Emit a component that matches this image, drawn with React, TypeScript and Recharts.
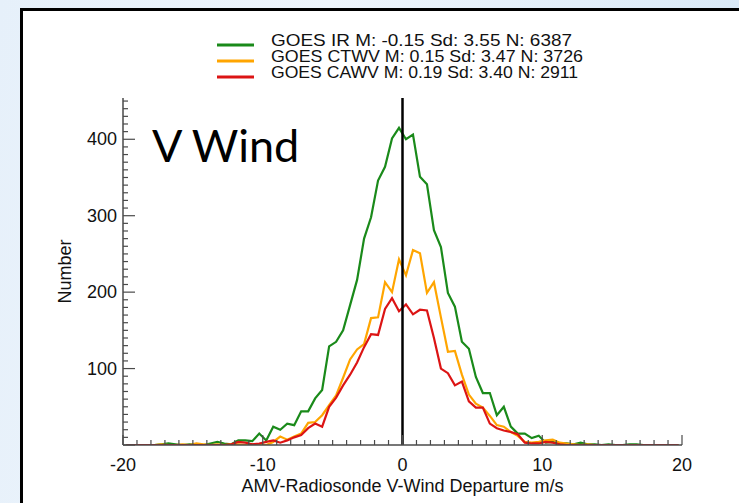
import React from 'react';
import { LineChart, Line, XAxis, YAxis, ReferenceLine, Legend, Customized } from 'recharts';

// Bin centres of the departure histogram (m/s)
const departures = [
  -19.75, -19.25, -18.75, -18.25, -17.75, -17.25, -16.75, -16.25, -15.75, -15.25,
  -14.75, -14.25, -13.75, -13.25, -12.75, -12.25, -11.75, -11.25, -10.75, -10.25,
  -9.75, -9.25, -8.75, -8.25, -7.75, -7.25, -6.75, -6.25, -5.75, -5.25,
  -4.75, -4.25, -3.75, -3.25, -2.75, -2.25, -1.75, -1.25, -0.75, -0.25,
  0.25, 0.75, 1.25, 1.75, 2.25, 2.75, 3.25, 3.75, 4.25, 4.75,
  5.25, 5.75, 6.25, 6.75, 7.25, 7.75, 8.25, 8.75, 9.25, 9.75,
  10.25, 10.75, 11.25, 11.75, 12.25, 12.75, 13.25, 13.75, 14.25, 14.75,
  15.25, 15.75, 16.25, 16.75, 17.25, 17.75, 18.25, 18.75, 19.25, 19.75,
];

const goesIR = [
  0, 0, 0, 0, 0, 1, 2, 1, 0, 1,
  1, 0, 2, 4, 2, 1, 6, 6, 5, 15,
  6, 24, 20, 28, 26, 44, 44, 61, 72, 129,
  135, 150, 183, 216, 270, 298, 346, 364, 401, 415,
  400, 406, 351, 341, 281, 259, 199, 181, 135, 126,
  89, 68, 68, 39, 50, 24, 15, 15, 9, 12,
  3, 4, 2, 2, 1, 3, 1, 1, 0, 1,
  0, 0, 1, 1, 0, 0, 0, 0, 0, 0,
];

const goesCTWV = [
  0, 0, 0, 0, 0, 1, 0, 0, 1, 0,
  2, 1, 0, 1, 0, 1, 1, 0, 1, 1,
  0, 4, 11, 7, 11, 15, 29, 30, 39, 52,
  65, 88, 112, 125, 132, 166, 167, 213, 200, 243,
  222, 255, 251, 199, 213, 167, 122, 123, 92, 66,
  54, 49, 38, 26, 24, 17, 12, 4, 3, 4,
  6, 7, 3, 2, 1, 0, 1, 0, 0, 0,
  0, 0, 0, 0, 0, 0, 0, 0, 0, 0,
];

const goesCAWV = [
  0, 0, 0, 0, 0, 0, 0, 0, 0, 0,
  0, 0, 0, 0, 0, 1, 4, 3, 1, 2,
  4, 6, 3, 6, 10, 13, 22, 28, 24, 50,
  62, 78, 92, 108, 128, 145, 144, 178, 192, 175,
  184, 171, 177, 176, 140, 100, 94, 78, 83, 57,
  49, 49, 28, 22, 19, 17, 14, 3, 2, 2,
  4, 3, 1, 0, 0, 0, 0, 0, 0, 0,
  0, 0, 0, 0, 0, 0, 0, 0, 0, 0,
];

const seriesNames = [
  'GOES IR M: -0.15 Sd: 3.55 N: 6387',
  'GOES CTWV M: 0.15 Sd: 3.47 N: 3726',
  'GOES CAWV M: 0.19 Sd: 3.40 N: 2911',
];
const seriesColors = ['#1a8a1a', '#ffa500', '#dc1414'];

const xTicks = [
  -20, -19, -18, -17, -16, -15, -14, -13, -12, -11, -10, -9, -8, -7, -6, -5, -4, -3, -2, -1,
  0, 1, 2, 3, 4, 5, 6, 7, 8, 9, 10, 11, 12, 13, 14, 15, 16, 17, 18, 19, 20,
];
const xLabelTicks = [-20, -10, 0, 10, 20];
const yTicks = [
  0, 10, 20, 30, 40, 50, 60, 70, 80, 90, 100, 110, 120, 130, 140, 150, 160, 170, 180, 190,
  200, 210, 220, 230, 240, 250, 260, 270, 280, 290, 300, 310, 320, 330, 340, 350, 360, 370,
  380, 390, 400, 410, 420, 430, 440, 450,
];
const yLabelTicks = [100, 200, 300, 400];

const data = departures.map((d, i) => ({
  x: d,
  ir: goesIR[i],
  ctwv: goesCTWV[i],
  cawv: goesCAWV[i],
}));

const FONT = '"Liberation Sans", Arial, Helvetica, sans-serif';
const TICK_COLOR = '#4a4a4a';

const BottomTick = (props: any) => {
  const { x, y, payload } = props;
  const v = payload.value;
  const major = v % 10 === 0;
  const len = major ? 10 : 5;
  return (
    <g>
      <line x1={x} y1={y} x2={x} y2={y - len} stroke={TICK_COLOR} strokeWidth={1.2} />
      {xLabelTicks.includes(v) && (
        <text x={x} y={y + 26} textAnchor="middle" fontSize={18} fontFamily={FONT} fill="#111">
          {v}
        </text>
      )}
    </g>
  );
};

const TopTick = (props: any) => {
  const { x, y, payload } = props;
  const major = payload.value % 10 === 0;
  const len = major ? 10 : 5;
  return <line x1={x} y1={y} x2={x} y2={y + len} stroke={TICK_COLOR} strokeWidth={1.2} />;
};

const LeftTick = (props: any) => {
  const { x, y, payload } = props;
  const v = payload.value;
  const major = v % 100 === 0;
  const len = major ? 12 : 5;
  return (
    <g>
      <line x1={x} y1={y} x2={x + len} y2={y} stroke={TICK_COLOR} strokeWidth={1.2} />
      {yLabelTicks.includes(v) && (
        <text x={x - 6} y={y + 6} textAnchor="end" fontSize={18} fontFamily={FONT} fill="#111">
          {v}
        </text>
      )}
    </g>
  );
};

const RightTick = (props: any) => {
  const { x, y, payload } = props;
  const major = payload.value % 100 === 0;
  const len = major ? 12 : 5;
  return <line x1={x} y1={y} x2={x - len} y2={y} stroke={TICK_COLOR} strokeWidth={1.2} />;
};

const legendWidths = [301, 312, 307];

const LegendContent = (props: any) => {
  const payload: any[] = [...(props.payload || [])];
  payload.sort((a, b) => seriesNames.indexOf(a.value) - seriesNames.indexOf(b.value));
  return (
    <svg width={739} height={90} style={{ display: 'block' }}>
      {payload.map((entry: any, i: number) => (
        <g key={i}>
          <line
            x1={217}
            x2={254}
            y1={45 + i * 16}
            y2={45 + i * 16}
            stroke={entry.color}
            strokeWidth={3}
          />
          <text
            x={271}
            y={46 + i * 16}
            fontSize={16.5}
            fontFamily={FONT}
            fill="#111"
            textLength={legendWidths[i]}
            lengthAdjust="spacingAndGlyphs"
          >
            {entry.value}
          </text>
        </g>
      ))}
    </svg>
  );
};

const Title = () => (
  <text x={152} y={162} fontSize={45} fontFamily="Lato, 'Open Sans', sans-serif" fill="#000">
    V Wind
  </text>
);

export default function App() {
  return (
    <div
      style={{
        position: 'fixed',
        left: 0,
        top: 0,
        width: 739,
        height: 503,
        overflow: 'hidden',
        background: 'linear-gradient(100deg, #e6f0fa 0%, #eef5fc 40%, #d6e7f6 100%)',
      }}
    >
      <div
        style={{
          position: 'absolute',
          left: 20,
          top: 8,
          width: 800,
          height: 600,
          background: '#fff',
          borderLeft: '3px solid #000',
          borderTop: '3px solid #000',
        }}
      />
      <div style={{ position: 'absolute', left: 0, top: 0 }}>
        <LineChart
          width={739}
          height={503}
          data={data}
          margin={{ top: 98, right: 57, bottom: 0, left: 63 }}
        >
          <XAxis
            dataKey="x"
            type="number"
            domain={[-20, 20]}
            ticks={xTicks}
            interval={0}
            tickSize={0}
            tickMargin={0}
            tick={<BottomTick />}
            tickLine={false}
            axisLine={{ stroke: TICK_COLOR, strokeWidth: 1.5 }}
            height={58}
            allowDataOverflow
            label={{
              value: 'AMV-Radiosonde V-Wind Departure m/s',
              position: 'insideBottom',
              offset: 11,
              style: { fontSize: 18, fontFamily: FONT, fill: '#111' },
            }}
          />
          <XAxis
            xAxisId="top"
            orientation="top"
            dataKey="x"
            type="number"
            domain={[-20, 20]}
            ticks={xTicks}
            interval={0}
            tickSize={0}
            tickMargin={0}
            tick={<TopTick />}
            tickLine={false}
            axisLine={{ stroke: TICK_COLOR, strokeWidth: 1.5 }}
            height={0}
            allowDataOverflow
          />
          <YAxis
            type="number"
            domain={[0, 454]}
            ticks={yTicks}
            interval={0}
            tickSize={0}
            tickMargin={0}
            tick={<LeftTick />}
            tickLine={false}
            axisLine={{ stroke: TICK_COLOR, strokeWidth: 1.5 }}
            width={60}
            allowDataOverflow
            label={{
              value: 'Number',
              angle: -90,
              position: 'center',
              dx: -28,
              style: { fontSize: 18, fontFamily: FONT, fill: '#111', textAnchor: 'middle' },
            }}
          />
          <YAxis
            yAxisId="right"
            orientation="right"
            type="number"
            domain={[0, 454]}
            ticks={yTicks}
            interval={0}
            tickSize={0}
            tickMargin={0}
            tick={<RightTick />}
            tickLine={false}
            axisLine={{ stroke: TICK_COLOR, strokeWidth: 1.5 }}
            width={0}
            allowDataOverflow
          />
          <Line
            dataKey="ir"
            name={seriesNames[0]}
            stroke={seriesColors[0]}
            strokeWidth={2.2}
            dot={false}
            isAnimationActive={false}
          />
          <Line
            dataKey="ctwv"
            name={seriesNames[1]}
            stroke={seriesColors[1]}
            strokeWidth={2.2}
            dot={false}
            isAnimationActive={false}
          />
          <Line
            dataKey="cawv"
            name={seriesNames[2]}
            stroke={seriesColors[2]}
            strokeWidth={2.2}
            dot={false}
            isAnimationActive={false}
          />
          <ReferenceLine x={0} stroke="#000" strokeWidth={2.5} />
          <Legend
            layout="horizontal"
            verticalAlign="middle"
            align="center"
            content={<LegendContent />}
            wrapperStyle={{ position: 'absolute', left: 0, top: 0, width: 739, height: 90 }}
          />
          <Customized component={<Title />} />
        </LineChart>
      </div>
    </div>
  );
}
